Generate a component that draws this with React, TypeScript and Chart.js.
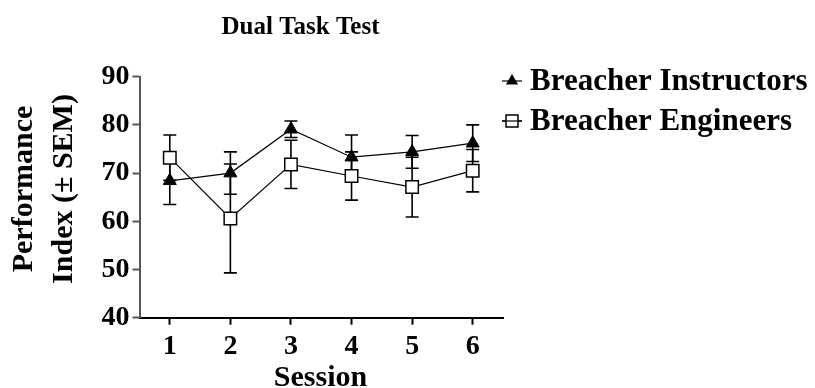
import React, { useEffect, useRef } from "react";
import { Chart, registerables } from "chart.js";

Chart.register(...registerables);

const sessions = ["1", "2", "3", "4", "5", "6"];
const instructorsMean = [68.4, 70.0, 79.1, 73.3, 74.4, 76.2];
const instructorsSem = [4.9, 4.4, 1.7, 4.6, 3.4, 3.8];
const engineersMean = [73.2, 60.6, 71.8, 69.4, 67.1, 70.5];
const engineersSem = [4.7, 11.3, 5.0, 5.0, 6.2, 4.4];
const yTicks = [40, 50, 60, 70, 80, 90];

const titleText = "Dual Task Test";
const xTitle = "Session";
const yTitleLines = ["Performance", "Index (\u00b1 SEM)"];
const legendLabels = ["Breacher Instructors", "Breacher Engineers"];

const FONT = "'Liberation Serif', 'Times New Roman', serif";

const errorBarPlugin = {
  id: "errorBars",
  beforeDatasetsDraw(chart: any) {
    const ctx = chart.ctx;
    const y = chart.scales.y;
    const sems = [instructorsSem, engineersSem];
    ctx.save();
    ctx.strokeStyle = "#000";
    ctx.lineWidth = 1.6;
    chart.data.datasets.forEach((ds: any, i: number) => {
      const meta = chart.getDatasetMeta(i);
      meta.data.forEach((pt: any, j: number) => {
        const v = ds.data[j];
        const e = sems[i][j];
        const top = y.getPixelForValue(v + e);
        const bot = y.getPixelForValue(v - e);
        const x = pt.x;
        ctx.beginPath();
        ctx.moveTo(x, top);
        ctx.lineTo(x, bot);
        ctx.moveTo(x - 6.5, top);
        ctx.lineTo(x + 6.5, top);
        ctx.moveTo(x - 6.5, bot);
        ctx.lineTo(x + 6.5, bot);
        ctx.stroke();
      });
    });
    ctx.restore();
  },
};

const textPlugin = {
  id: "texts",
  afterDraw(chart: any) {
    const ctx = chart.ctx;
    ctx.save();
    ctx.fillStyle = "#000";
    // title
    ctx.font = `bold 25px ${FONT}`;
    ctx.textAlign = "center";
    ctx.textBaseline = "alphabetic";
    ctx.fillText(titleText, 300.5, 34);
    // x title
    ctx.font = `bold 30px ${FONT}`;
    ctx.fillText(xTitle, 320.5, 386);
    // y title
    const xs = [32, 72];
    yTitleLines.forEach((line, i) => {
      ctx.save();
      ctx.translate(xs[i], 189);
      ctx.rotate(-Math.PI / 2);
      ctx.textAlign = "center";
      ctx.fillText(line, 0, 0);
      ctx.restore();
    });
    // legend
    const rows = [81, 121];
    legendLabels.forEach((label, i) => {
      const cy = rows[i];
      ctx.strokeStyle = "#000";
      ctx.lineWidth = 1.2;
      ctx.beginPath();
      ctx.moveTo(502, cy);
      ctx.lineTo(522, cy);
      ctx.stroke();
      if (i === 0) {
        const r = 7;
        ctx.beginPath();
        ctx.moveTo(512, cy - r);
        ctx.lineTo(512 + r * 0.866, cy + r * 0.5);
        ctx.lineTo(512 - r * 0.866, cy + r * 0.5);
        ctx.closePath();
        ctx.fillStyle = "#000";
        ctx.fill();
      } else {
        ctx.fillStyle = "#fff";
        ctx.fillRect(506, cy - 6, 12, 12);
        ctx.lineWidth = 1.5;
        ctx.strokeRect(506, cy - 6, 12, 12);
        ctx.beginPath();
        ctx.moveTo(502, cy);
        ctx.lineTo(522, cy);
        ctx.lineWidth = 1.2;
        ctx.stroke();
      }
      ctx.fillStyle = "#000";
      ctx.font = `bold 31px ${FONT}`;
      ctx.textAlign = "left";
      ctx.fillText(label, 530, cy + 9);
    });
    ctx.restore();
  },
};

export default function App() {
  const ref = useRef<HTMLCanvasElement | null>(null);
  useEffect(() => {
    if (!ref.current) return;
    const chart = new Chart(ref.current, {
      type: "line",
      data: {
        labels: sessions,
        datasets: [
          {
            label: legendLabels[0],
            data: instructorsMean,
            borderColor: "#000",
            borderWidth: 1.2,
            pointStyle: "triangle",
            pointRadius: 7.5,
            pointBackgroundColor: "#000",
            pointBorderColor: "#000",
            pointBorderWidth: 1,
            tension: 0,
          },
          {
            label: legendLabels[1],
            data: engineersMean,
            borderColor: "#000",
            borderWidth: 1.2,
            pointStyle: "rect",
            pointRadius: 8.8,
            pointBackgroundColor: "#fff",
            pointBorderColor: "#000",
            pointBorderWidth: 1.5,
            tension: 0,
          },
        ],
      },
      options: {
        animation: false,
        responsive: true,
        maintainAspectRatio: false,
        layout: { padding: { top: 76.7, right: 312, left: 0, bottom: 0 } },
        plugins: {
          legend: { display: false },
          title: { display: false },
          tooltip: { enabled: false },
        },
        scales: {
          x: {
            type: "category",
            offset: true,
            grid: {
              display: true,
              drawOnChartArea: false,
              drawTicks: true,
              tickLength: 7,
              tickColor: "#000",
              tickWidth: 2,
              offset: false,
            },
            border: { display: true, color: "#000", width: 2 },
            ticks: {
              color: "#000",
              padding: 5,
              font: { family: FONT, size: 28, weight: "bold" },
              maxRotation: 0,
            },
            afterFit(s: any) {
              s.height = 70.3;
            },
          },
          y: {
            min: 40,
            max: 90,
            afterBuildTicks(s: any) {
              s.ticks = yTicks.map((v) => ({ value: v }));
            },
            grid: {
              display: true,
              drawOnChartArea: false,
              drawTicks: true,
              tickLength: 7,
              tickColor: "#555",
              tickWidth: 2,
            },
            border: { display: true, color: "#555", width: 2 },
            ticks: {
              color: "#000",
              padding: 3,
              font: { family: FONT, size: 28, weight: "bold" },
            },
            afterFit(s: any) {
              s.width = 139.5;
            },
          },
        },
      },
      plugins: [errorBarPlugin, textPlugin],
    });
    return () => chart.destroy();
  }, []);
  return (
    <div
      style={{
        position: "fixed",
        left: 0,
        top: 0,
        width: 815,
        height: 388,
        background: "#fff",
      }}
    >
      <canvas ref={ref} />
    </div>
  );
}
